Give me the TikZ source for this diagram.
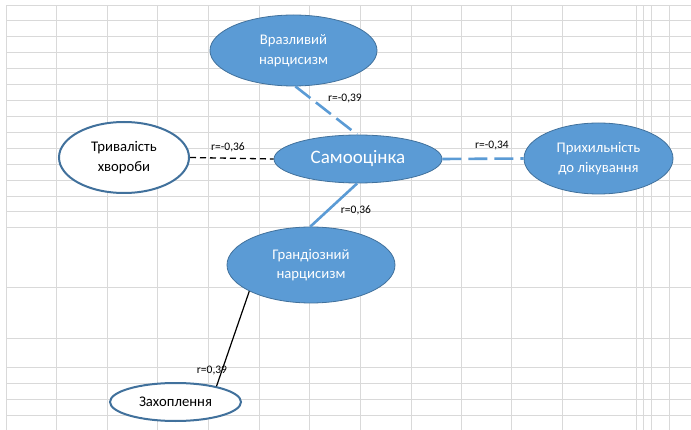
\documentclass[tikz,border=0pt]{standalone}
\usepackage{fontspec}
\setmainfont{Carlito}
\usetikzlibrary{shapes.geometric}
\definecolor{fillblue}{HTML}{5B9BD5}
\definecolor{edgeblue}{HTML}{41719C}
\definecolor{gridgray}{HTML}{D9D9D9}
\begin{document}
\begin{tikzpicture}[x=1pt,y=-1pt,
  bluenode/.style={ellipse,draw=edgeblue,line width=0.8pt,fill=fillblue,text=white,inner sep=0pt,align=center,font=\fontsize{14.7}{19.5}\selectfont},
  whitenode/.style={ellipse,draw=edgeblue,line width=2pt,fill=white,text=black,inner sep=0pt,align=center,font=\fontsize{14.7}{19.5}\selectfont},
  bluedash/.style={draw=fillblue,line width=2.6pt,dash pattern=on 19pt off 7pt},
  bluesolid/.style={draw=fillblue,line width=2.6pt},
  blackdash/.style={draw=black,line width=1.3pt,dash pattern=on 6pt off 4pt},
  blacksolid/.style={draw=black,line width=1.2pt},
  corr/.style={font=\fontsize{11.5}{13}\selectfont,inner sep=0pt}]
\useasboundingbox (0,0) rectangle (691,430);
\fill[white] (0,0) rectangle (691,430);
% grid
\foreach \yy in {6,21,37,53,69,85,101,117,133,149,165,181,197,212,228,288,339,368,383,399,415}
  \draw[gridgray,line width=1pt] (6,\yy) -- (691,\yy);
\foreach \xx in {6,56,107,157,208,259,309,360,411,461,511,562,636,643,651,669}
  \draw[gridgray,line width=1pt] (\xx,6) -- (\xx,430);
% nodes
\node[bluenode,minimum width=167pt,minimum height=71pt] (vraz) at (293.5,50.5) {Вразливий\\нарцисизм};
\node[bluenode,minimum width=168pt,minimum height=48pt,font=\fontsize{19}{22}\selectfont] (samo) at (358,159) {Самооцінка};
\node[bluenode,minimum width=149pt,minimum height=71pt] (pryh) at (598.5,158.5) {Прихильність\\до лікування};
\node[whitenode,minimum width=130pt,minimum height=71pt] (tryv) at (124,157.5) {Тривалість\\хвороби};
\node[bluenode,minimum width=168pt,minimum height=76pt] (grand) at (311,265) {Грандіозний\\нарцисизм};
\node[whitenode,minimum width=131pt,minimum height=38pt] (zakh) at (175.5,402) {Захоплення};
% connectors
\draw[bluedash] (vraz.-87.7) -- (samo.92);
\draw[blackdash] (tryv.east) -- (samo.west);
\draw[bluedash] (samo.east) -- (pryh.west);
\draw[bluesolid] (samo.-92) -- (grand.91.5);
\draw[blacksolid] (grand.-157) -- (zakh.21);
% labels
\node[corr] (l1) at (345,99) {r=-0,39};
\node[corr] (l2) at (228,147) {r=-0,36};
\node[corr] (l3) at (492,146) {r=-0,34};
\node[corr] (l4) at (356,210) {r=0,36};
\node[corr] (l5) at (212,371) {r=0,39};
\end{tikzpicture}
\end{document}
